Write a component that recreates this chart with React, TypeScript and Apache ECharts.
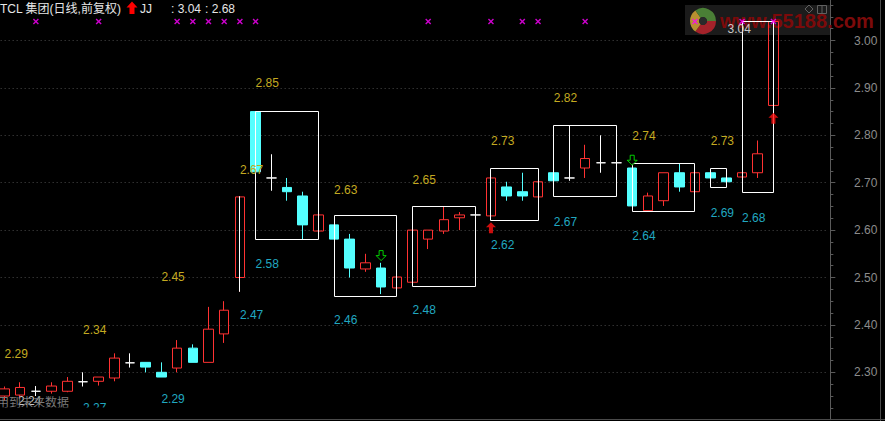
import { useEffect, useRef } from "react";
import * as echarts from "echarts";

// ---- data ----
const opens = [2.25, 2.252, 2.26, 2.26, 2.26, 2.28, 2.281, 2.288, 2.32, 2.321, 2.3, 2.309, 2.351, 2.321, 2.381, 2.5, 2.85, 2.71, 2.69, 2.672, 2.598, 2.611, 2.581, 2.518, 2.52, 2.478, 2.49, 2.581, 2.598, 2.626, 2.632, 2.63, 2.691, 2.681, 2.67, 2.721, 2.71, 2.731, 2.742, 2.742, 2.731, 2.641, 2.662, 2.721, 2.681, 2.721, 2.71, 2.712, 2.721, 2.863];
const closes = [2.265, 2.268, 2.26, 2.271, 2.281, 2.28, 2.29, 2.33, 2.32, 2.311, 2.29, 2.351, 2.321, 2.391, 2.431, 2.67, 2.723, 2.71, 2.681, 2.611, 2.632, 2.581, 2.52, 2.531, 2.48, 2.501, 2.6, 2.6, 2.622, 2.632, 2.632, 2.71, 2.672, 2.672, 2.702, 2.704, 2.71, 2.751, 2.742, 2.742, 2.651, 2.672, 2.721, 2.691, 2.721, 2.71, 2.702, 2.721, 2.761, 3.04];
const lows = [2.24, 2.245, 2.25, 2.255, 2.258, 2.27, 2.272, 2.281, 2.31, 2.3, 2.29, 2.3, 2.321, 2.321, 2.362, 2.47, 2.72, 2.683, 2.662, 2.58, 2.598, 2.581, 2.5, 2.512, 2.465, 2.478, 2.49, 2.56, 2.592, 2.6, 2.632, 2.63, 2.662, 2.662, 2.67, 2.704, 2.704, 2.71, 2.721, 2.742, 2.651, 2.641, 2.651, 2.681, 2.681, 2.71, 2.702, 2.712, 2.71, 2.863];
const highs = [2.27, 2.279, 2.271, 2.279, 2.29, 2.3, 2.29, 2.34, 2.34, 2.321, 2.321, 2.368, 2.359, 2.438, 2.45, 2.67, 2.85, 2.76, 2.71, 2.681, 2.632, 2.611, 2.592, 2.55, 2.531, 2.501, 2.6, 2.6, 2.65, 2.638, 2.632, 2.71, 2.702, 2.721, 2.702, 2.721, 2.82, 2.78, 2.8, 2.742, 2.731, 2.679, 2.721, 2.74, 2.721, 2.721, 2.71, 2.721, 2.789, 3.04];

// swing groups: start bar, end bar (-1 = no frame), high, low
const groupStart = [0, 5, 10, 15, 16, 21, 26, 31, 35, 40, 45, 47];
const groupEnd = [-1, -1, -1, 15, 20, 25, 30, 34, 39, 44, 46, 49];
const groupHigh = [2.29, 2.34, 2.45, 2.67, 2.85, 2.63, 2.65, 2.73, 2.82, 2.74, 2.73, 3.04];
const groupLow = [2.24, 2.27, 2.29, 2.47, 2.58, 2.46, 2.48, 2.62, 2.67, 2.64, 2.69, 2.68];

const signalIdx = [2, 6, 11, 12, 13, 14, 15, 16, 27, 31, 33, 34, 37, 44, 47, 49];
const signalLevel = 3.04;
const buyIdx = [31, 49];
const sellIdx = [24, 40];

const yMin = 2.2;
const yMax = 3.1;
const yStep = 0.1;
const extraSlots = ["", "", ""];

const headerName = "TCL 集团(日线,前复权)";
const headerIndicator = "JJ";
const headerValues = [3.04, 2.68];
const footerNote = "用到未来数据";
const watermarkText = "www.55188.com";

const categories = [...opens.map((_, i) => `D${i + 1}`), ...extraSlots];

const RED = "#ff3232";
const CYAN = "#54ffff";
const YEL = "#c4aa20";
const TEAL = "#20a8c0";
const FONT = '12px "Liberation Sans", "Noto Sans CJK SC", sans-serif';

// the chart div is shifted so the plot can start slightly left/above the page
const OX = 4;
const OY = 7;

const crisp = (v: number) => Math.round(v - 0.5) + 0.5;

export default function App() {
  const ref = useRef<HTMLDivElement>(null);
  useEffect(() => {
    if (!ref.current) return;
    const chart = echarts.init(ref.current, undefined, { renderer: "svg" });

    const candleData = opens.map((o, i) => {
      const item: any = { value: [o, closes[i], lows[i], highs[i]] };
      if (o === closes[i]) {
        item.itemStyle = { color: "#ffffff", color0: "#ffffff", borderColor: "#ffffff", borderColor0: "#ffffff" };
      }
      return item;
    });

    const boxData = groupStart
      .map((s, i) => [s, groupEnd[i], groupHigh[i], groupLow[i]])
      .filter((d) => d[1] >= 0);

    const labelData = groupStart.map((s, i) => [s, groupHigh[i], groupLow[i]]);

    const T = (x: number, y: number) => ({ x: x + OX, y: y + OY });

    const option: any = {
      animation: false,
      backgroundColor: "#000000",
      grid: { left: 0.65, right: 56.65, top: 0.1, bottom: 1.3 },
      xAxis: {
        type: "category",
        data: categories,
        boundaryGap: true,
        show: false,
      },
      yAxis: {
        type: "value",
        position: "right",
        min: yMin,
        max: yMax,
        interval: yStep,
        offset: 2,
        axisLine: { show: true, lineStyle: { color: "#5a5a5a" } },
        axisTick: { show: true, inside: false, length: 5, lineStyle: { color: "#5a5a5a" } },
        minorTick: { show: true, splitNumber: 4, length: 3, lineStyle: { color: "#5a5a5a" } },
        axisLabel: {
          showMinLabel: false,
          showMaxLabel: false,
          color: "#8c8c8c",
          fontFamily: "Liberation Sans",
          fontSize: 12,
          align: "right",
          margin: 47,
          formatter: (v: number) => v.toFixed(2),
        },
        splitLine: { show: true, lineStyle: { color: "#4a4a4a", type: [1, 3] } },
      },
      series: [
        {
          type: "candlestick",
          barWidth: 10,
          z: 2,
          data: candleData,
          itemStyle: {
            color: "rgba(0,0,0,0)",
            color0: CYAN,
            borderColor: RED,
            borderColor0: CYAN,
            borderColorDoji: "#ffffff",
            borderWidth: 1,
          },
        },
        {
          type: "custom",
          z: 3,
          encode: { x: [0, 1], y: [2, 3] },
          data: boxData,
          renderItem: (_p: any, api: any) => {
            const a = api.coord([api.value(0), api.value(2)]);
            const b = api.coord([api.value(1), api.value(3)]);
            const x1 = crisp(a[0]);
            const y1 = crisp(a[1]);
            const x2 = crisp(b[0]);
            const y2 = crisp(b[1]);
            return {
              type: "rect",
              shape: { x: x1, y: y1, width: x2 - x1, height: y2 - y1 },
              style: { fill: "none", stroke: "#ffffff", lineWidth: 1 },
            };
          },
        },
        {
          type: "custom",
          z: 4,
          clip: false,
          encode: { x: 0, y: [1, 2] },
          data: labelData,
          renderItem: (_p: any, api: any) => {
            const s = api.value(0);
            const hi = api.value(1);
            const lo = api.value(2);
            const x = api.coord([s, hi])[0];
            let yH = api.coord([s, hi * 1.021])[1];
            let yL = api.coord([s, lo * 0.98])[1];
            let xH = x;
            let xL = x;
            let cH = YEL;
            let cL = TEAL;
            if (yH - OY < 10) {
              yH = 29 + OY;
              xH = x - 14.5;
              cH = "#c8c8c8";
            }
            if (yL - OY > 412) {
              yL = 401 + OY;
              xL = x + 13.5;
              cL = "#c8c8c8";
            }
            return {
              type: "group",
              children: [
                { type: "text", x: xH, y: yH, style: { text: hi.toFixed(2), fill: cH, font: FONT, align: "left", verticalAlign: "middle" } },
                { type: "text", x: xL, y: yL, style: { text: lo.toFixed(2), fill: cL, font: FONT, align: "left", verticalAlign: "middle" } },
              ],
            };
          },
        },
        {
          type: "scatter",
          z: 5,
          data: signalIdx.map((i) => [i, signalLevel]),
          symbol: "path://M0,1 L1,0 L3,2 L5,0 L6,1 L4,3 L6,5 L5,6 L3,4 L1,6 L0,5 L2,3 Z",
          symbolSize: 6,
          itemStyle: { color: "#ff00ff" },
        },
        {
          type: "scatter",
          z: 5,
          data: buyIdx.map((i) => [i, lows[i] * 0.9905]),
          symbol: "path://M5,0 L10,5 L7,5 L7,11 L3,11 L3,5 L0,5 Z",
          symbolSize: [10, 11],
          itemStyle: { color: "#ff1010" },
        },
        {
          type: "scatter",
          z: 5,
          data: sellIdx.map((i) => [i, highs[i] * 1.006]),
          symbol: "path://M3,0 L7,0 L7,5 L10,5 L5,10 L0,5 L3,5 Z",
          symbolSize: [10, 10],
          itemStyle: { color: "#000000", borderColor: "#00ff00", borderWidth: 1 },
        },
      ],
      graphic: [
        // watermark (behind series)
        { type: "rect", z: 1, shape: { ...T(685, 5), width: 145, height: 30 }, style: { fill: "#1b1b1b" } },
        { type: "sector", z: 1, shape: { cx: 703 + OX, cy: 21 + OY, r: 13, r0: 4, startAngle: 0, endAngle: Math.PI * 0.7 }, style: { fill: "#a3222a" } },
        { type: "sector", z: 1, shape: { cx: 703 + OX, cy: 21 + OY, r: 13, r0: 4, startAngle: Math.PI * 0.7, endAngle: Math.PI * 1.3 }, style: { fill: "#b89030" } },
        { type: "sector", z: 1, shape: { cx: 703 + OX, cy: 21 + OY, r: 13, r0: 4, startAngle: Math.PI * 1.3, endAngle: Math.PI * 2 }, style: { fill: "#4a7f36" } },
        { type: "circle", z: 1, shape: { cx: 703 + OX, cy: 21 + OY, r: 4 }, style: { fill: "#2a2a2a" } },
        {
          type: "text", z: 1, ...T(720, 21),
          style: { text: watermarkText, fill: "#7c0a0a", font: 'bold 20px "Liberation Sans", sans-serif', align: "left", verticalAlign: "middle" },
        },
        { type: "polygon", z: 1, shape: { points: [[809 + OX, 5 + OY], [813 + OX, 9 + OY], [809 + OX, 13 + OY], [805 + OX, 9 + OY]] }, style: { fill: "none", stroke: "#606060", lineWidth: 1 } },
        { type: "rect", z: 1, shape: { ...T(817.5, 5.5), width: 9, height: 8 }, style: { fill: "none", stroke: "#606060", lineWidth: 1 } },
        { type: "line", z: 1, shape: { x1: 822 + OX, y1: 5.5 + OY, x2: 822 + OX, y2: 13.5 + OY }, style: { stroke: "#606060", lineWidth: 1 } },
        // bottom strip and frame
        { type: "rect", z: 50, shape: { ...T(0, 407.5), width: 830, height: 11.5 }, style: { fill: "#000000" } },
        { type: "line", z: 50, shape: { x1: 0, y1: 419.5 + OY, x2: 885 + OX, y2: 419.5 + OY }, style: { stroke: "#4a4a4a", lineWidth: 1 } },
        { type: "line", z: 50, shape: { x1: 880.5 + OX, y1: 0, x2: 880.5 + OX, y2: 421 + OY }, style: { stroke: "#4a4a4a", lineWidth: 1 } },
        // header
        { type: "text", z: 50, ...T(0, 9), style: { text: headerName, fill: "#e6e6e6", font: FONT, align: "left", verticalAlign: "middle" } },
        {
          type: "polygon", z: 50,
          shape: { points: [[132, 1.5], [137.5, 7.5], [134.5, 7.5], [134.5, 14], [129.5, 14], [129.5, 7.5], [126.5, 7.5]].map((p) => [p[0] + OX, p[1] + OY]) },
          style: { fill: "#ff0000" },
        },
        { type: "text", z: 50, ...T(140, 9), style: { text: headerIndicator, fill: "#e6e6e6", font: FONT, align: "left", verticalAlign: "middle" } },
        { type: "text", z: 50, ...T(171, 9), style: { text: ": " + headerValues[0].toFixed(2), fill: "#e6e6e6", font: FONT, align: "left", verticalAlign: "middle" } },
        { type: "text", z: 50, ...T(205, 9), style: { text: ": " + headerValues[1].toFixed(2), fill: "#e6e6e6", font: FONT, align: "left", verticalAlign: "middle" } },
        // footer note
        { type: "text", z: 49, ...T(-3, 401), style: { text: footerNote, fill: "#7a7a7a", font: '12px "Noto Sans CJK SC", sans-serif', align: "left", verticalAlign: "middle" } },
      ],
    };
    chart.setOption(option);
    return () => chart.dispose();
  }, []);
  return (
    <div
      ref={ref}
      style={{ position: "fixed", left: -OX, top: -OY, width: 885 + OX, height: 421 + OY, background: "#000" }}
    />
  );
}
